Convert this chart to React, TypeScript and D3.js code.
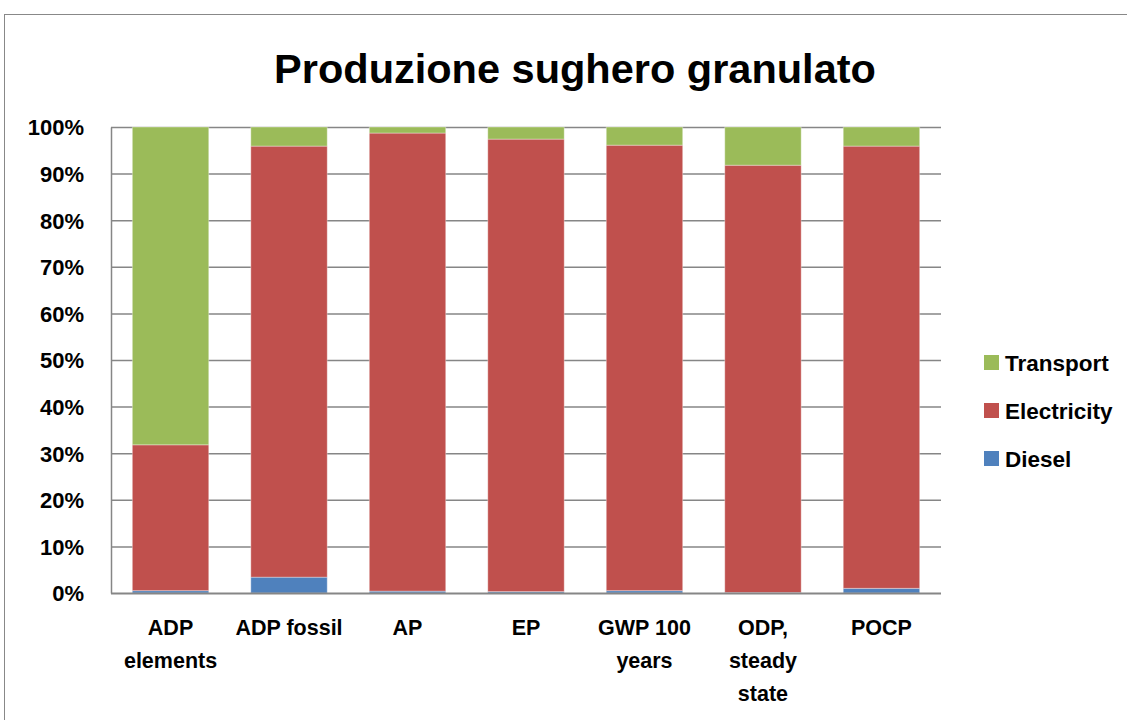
import React, { useEffect, useRef } from "react";
import * as d3 from "d3";

const categories = ["ADP\nelements", "ADP fossil", "AP", "EP", "GWP 100\nyears", "ODP,\nsteady\nstate", "POCP"];
const diesel = [0.5, 3.4, 0.4, 0.3, 0.5, 0.1, 1.0];
const electricity = [31.3, 92.5, 98.3, 97.1, 95.6, 91.7, 94.9];
const transport = [68.2, 4.1, 1.3, 2.6, 3.9, 8.2, 4.1];
const seriesNames = ["Diesel", "Electricity", "Transport"];
const seriesColors = ["#4F81BD", "#C0504D", "#9BBB59"];
const yTicks = [0, 10, 20, 30, 40, 50, 60, 70, 80, 90, 100];

const FONT = "'Liberation Sans', Arial, sans-serif";

export default function App() {
  const ref = useRef<SVGSVGElement>(null);

  useEffect(() => {
    const svg = d3.select(ref.current);
    svg.selectAll("*").remove();

    const margin = { top: 127, left: 111, right: 1127 - 941, bottom: 720 - 593 };
    const width = 1127 - margin.left - margin.right;
    const height = 720 - margin.top - margin.bottom;

    // chart frame
    svg
      .append("rect")
      .attr("x", 4.5)
      .attr("y", 14.5)
      .attr("width", 1140)
      .attr("height", 720)
      .attr("fill", "white")
      .attr("stroke", "#888");

    svg
      .append("text")
      .attr("x", 575)
      .attr("y", 83)
      .attr("text-anchor", "middle")
      .attr("font-family", FONT)
      .attr("font-weight", "bold")
      .attr("font-size", 41.5)
      .text("Produzione sughero granulato");

    const g = svg
      .append("g")
      .attr("transform", "translate(" + margin.left + "," + margin.top + ")");

    const x = d3
      .scaleBand()
      .domain(categories)
      .range([0, width])
      .paddingInner(0.355)
      .paddingOuter(0.18);

    const y = d3.scaleLinear().domain([0, 100]).range([height, 0]);

    // gridlines
    g.append("g")
      .selectAll("line")
      .data(yTicks.slice(1))
      .enter()
      .append("line")
      .attr("x1", 0)
      .attr("x2", width)
      .attr("y1", d => y(d) + 0.5)
      .attr("y2", d => y(d) + 0.5)
      .attr("stroke", "#868686")
      .attr("stroke-width", 1.5);

    // y axis
    const yAxis = g
      .append("g")
      .call(
        d3
          .axisLeft(y)
          .tickValues(yTicks)
          .tickSize(0)
          .tickPadding(27)
          .tickFormat(d => d + "%")
      )
      .attr("font-family", FONT)
      .attr("font-size", 22)
      .attr("font-weight", "bold");
    yAxis.selectAll("path").attr("stroke", "#868686").attr("stroke-width", 1.5);
    yAxis.selectAll("text").attr("fill", "black").attr("dy", "0.36em");

    // stacked bars
    const rows = categories.map((c, i) => ({
      cat: c,
      Diesel: diesel[i],
      Electricity: electricity[i],
      Transport: transport[i],
    }));
    const stack = d3.stack<any>().keys(seriesNames)(rows);

    g.append("g")
      .selectAll("g")
      .data(stack)
      .enter()
      .append("g")
      .attr("fill", (d, i) => seriesColors[i])
      .selectAll("rect")
      .data(d => d)
      .enter()
      .append("rect")
      .attr("x", d => x(d.data.cat))
      .attr("y", d => y(d[1]))
      .attr("width", x.bandwidth())
      .attr("height", d => y(d[0]) - y(d[1]))
      .attr("stroke", "rgba(255,255,255,0.35)")
      .attr("stroke-width", 1);

    // x axis line
    g.append("line")
      .attr("x1", 0)
      .attr("x2", width)
      .attr("y1", height + 0.5)
      .attr("y2", height + 0.5)
      .attr("stroke", "#868686")
      .attr("stroke-width", 2);

    // category labels
    const labels = g
      .append("g")
      .selectAll("text")
      .data(categories)
      .enter()
      .append("text")
      .attr("x", d => x(d) + x.bandwidth() / 2)
      .attr("y", height + 42)
      .attr("text-anchor", "middle")
      .attr("font-family", FONT)
      .attr("font-weight", "bold")
      .attr("font-size", 21.5);
    labels
      .selectAll("tspan")
      .data(d => d.split("\n"))
      .enter()
      .append("tspan")
      .attr("x", function () {
        return (this.parentNode as SVGTextElement).getAttribute("x");
      })
      .attr("dy", (d, i) => (i === 0 ? 0 : 33))
      .text(d => d);

    // legend
    const legendItems = [...seriesNames].reverse();
    const legendColors = [...seriesColors].reverse();
    const legend = svg
      .append("g")
      .selectAll("g")
      .data(legendItems)
      .enter()
      .append("g")
      .attr("transform", (d, i) => "translate(984," + (355 + i * 48) + ")");
    legend
      .append("rect")
      .attr("width", 15)
      .attr("height", 15)
      .attr("fill", (d, i) => legendColors[i]);
    legend
      .append("text")
      .attr("x", 21)
      .attr("y", 16)
      .attr("font-family", FONT)
      .attr("font-weight", "bold")
      .attr("font-size", 22.5)
      .text(d => d);
  }, []);

  return (
    <svg
      ref={ref}
      width={1127}
      height={720}
      style={{ position: "absolute", left: 0, top: 0, background: "white" }}
    />
  );
}
